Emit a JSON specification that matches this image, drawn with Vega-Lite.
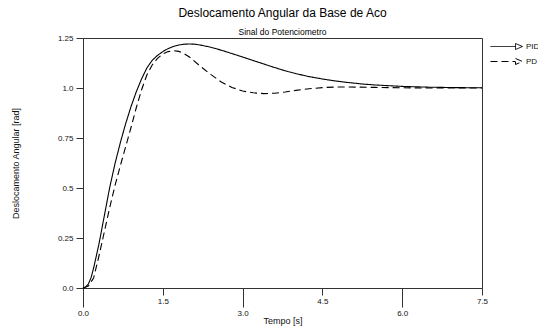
{
  "$schema": "https://vega.github.io/schema/vega-lite/v6.json",
  "width": 399,
  "height": 250,
  "autosize": {"type": "none"},
  "padding": {"left": 83, "top": 38, "right": 56, "bottom": 39},
  "background": "white",
  "title": {
    "text": "Deslocamento Angular da Base de Aco",
    "subtitle": "Sinal do Potenciometro",
    "font": "Liberation Sans",
    "fontSize": 12,
    "fontWeight": "normal",
    "color": "black",
    "subtitleFont": "Liberation Sans",
    "subtitleFontSize": 8.5,
    "subtitleColor": "black",
    "anchor": "middle",
    "offset": -3,
    "subtitlePadding": 8
  },
  "config": {
    "view": {"stroke": "#333", "strokeWidth": 1},
    "axis": {
      "grid": false,
      "domainColor": "#333",
      "tickColor": "#333",
      "labelColor": "#111",
      "labelFont": "Liberation Sans",
      "labelFontSize": 8,
      "titleFont": "Liberation Sans",
      "titleFontSize": 9,
      "titleFontWeight": "normal",
      "titleColor": "#111"
    },
    "legend": {
      "labelFont": "Liberation Sans",
      "labelFontSize": 8,
      "labelColor": "#111"
    }
  },
  "data": {
    "values": [
      {"t": 0, "y": 0, "series": "PID"},
      {"t": 0.05, "y": 0.005, "series": "PID"},
      {"t": 0.1, "y": 0.02, "series": "PID"},
      {"t": 0.15, "y": 0.05, "series": "PID"},
      {"t": 0.2, "y": 0.1, "series": "PID"},
      {"t": 0.3, "y": 0.22, "series": "PID"},
      {"t": 0.4, "y": 0.36, "series": "PID"},
      {"t": 0.5, "y": 0.5, "series": "PID"},
      {"t": 0.6, "y": 0.62, "series": "PID"},
      {"t": 0.7, "y": 0.725, "series": "PID"},
      {"t": 0.8, "y": 0.82, "series": "PID"},
      {"t": 0.9, "y": 0.905, "series": "PID"},
      {"t": 1.0, "y": 0.98, "series": "PID"},
      {"t": 1.1, "y": 1.045, "series": "PID"},
      {"t": 1.2, "y": 1.1, "series": "PID"},
      {"t": 1.3, "y": 1.138, "series": "PID"},
      {"t": 1.4, "y": 1.163, "series": "PID"},
      {"t": 1.5, "y": 1.182, "series": "PID"},
      {"t": 1.6, "y": 1.197, "series": "PID"},
      {"t": 1.7, "y": 1.208, "series": "PID"},
      {"t": 1.8, "y": 1.215, "series": "PID"},
      {"t": 1.9, "y": 1.219, "series": "PID"},
      {"t": 2.0, "y": 1.22, "series": "PID"},
      {"t": 2.1, "y": 1.219, "series": "PID"},
      {"t": 2.2, "y": 1.215, "series": "PID"},
      {"t": 2.4, "y": 1.204, "series": "PID"},
      {"t": 2.6, "y": 1.189, "series": "PID"},
      {"t": 2.8, "y": 1.172, "series": "PID"},
      {"t": 3.0, "y": 1.155, "series": "PID"},
      {"t": 3.25, "y": 1.133, "series": "PID"},
      {"t": 3.5, "y": 1.111, "series": "PID"},
      {"t": 3.75, "y": 1.09, "series": "PID"},
      {"t": 4.0, "y": 1.072, "series": "PID"},
      {"t": 4.25, "y": 1.057, "series": "PID"},
      {"t": 4.5, "y": 1.045, "series": "PID"},
      {"t": 4.75, "y": 1.035, "series": "PID"},
      {"t": 5.0, "y": 1.027, "series": "PID"},
      {"t": 5.25, "y": 1.02, "series": "PID"},
      {"t": 5.5, "y": 1.015, "series": "PID"},
      {"t": 6.0, "y": 1.008, "series": "PID"},
      {"t": 6.5, "y": 1.004, "series": "PID"},
      {"t": 7.0, "y": 1.002, "series": "PID"},
      {"t": 7.5, "y": 1.001, "series": "PID"},
      {"t": 0, "y": 0, "series": "PD"},
      {"t": 0.1, "y": 0.01, "series": "PD"},
      {"t": 0.2, "y": 0.05, "series": "PD"},
      {"t": 0.3, "y": 0.16, "series": "PD"},
      {"t": 0.4, "y": 0.28, "series": "PD"},
      {"t": 0.5, "y": 0.4, "series": "PD"},
      {"t": 0.6, "y": 0.51, "series": "PD"},
      {"t": 0.7, "y": 0.61, "series": "PD"},
      {"t": 0.8, "y": 0.705, "series": "PD"},
      {"t": 0.9, "y": 0.8, "series": "PD"},
      {"t": 1.0, "y": 0.9, "series": "PD"},
      {"t": 1.1, "y": 0.99, "series": "PD"},
      {"t": 1.2, "y": 1.065, "series": "PD"},
      {"t": 1.3, "y": 1.115, "series": "PD"},
      {"t": 1.4, "y": 1.148, "series": "PD"},
      {"t": 1.5, "y": 1.17, "series": "PD"},
      {"t": 1.6, "y": 1.182, "series": "PD"},
      {"t": 1.7, "y": 1.187, "series": "PD"},
      {"t": 1.8, "y": 1.183, "series": "PD"},
      {"t": 1.9, "y": 1.172, "series": "PD"},
      {"t": 2.0, "y": 1.155, "series": "PD"},
      {"t": 2.2, "y": 1.11, "series": "PD"},
      {"t": 2.4, "y": 1.068, "series": "PD"},
      {"t": 2.6, "y": 1.03, "series": "PD"},
      {"t": 2.8, "y": 1.003, "series": "PD"},
      {"t": 3.0, "y": 0.985, "series": "PD"},
      {"t": 3.2, "y": 0.976, "series": "PD"},
      {"t": 3.4, "y": 0.972, "series": "PD"},
      {"t": 3.6, "y": 0.974, "series": "PD"},
      {"t": 3.8, "y": 0.98, "series": "PD"},
      {"t": 4.0, "y": 0.988, "series": "PD"},
      {"t": 4.25, "y": 0.996, "series": "PD"},
      {"t": 4.5, "y": 1.002, "series": "PD"},
      {"t": 4.75, "y": 1.005, "series": "PD"},
      {"t": 5.0, "y": 1.005, "series": "PD"},
      {"t": 5.5, "y": 1.003, "series": "PD"},
      {"t": 6.0, "y": 1.001, "series": "PD"},
      {"t": 6.5, "y": 1.0, "series": "PD"},
      {"t": 7.5, "y": 1.0, "series": "PD"}
    ]
  },
  "mark": {"type": "line", "color": "black", "strokeWidth": 1.1},
  "encoding": {
    "x": {
      "field": "t",
      "type": "quantitative",
      "scale": {"domain": [0, 7.5], "nice": false, "zero": false},
      "axis": {
        "values": [0, 1.5, 3, 4.5, 6, 7.5],
        "format": ".1f",
        "tickSize": {"condition": {"test": "datum.value % 3 == 0", "value": 19}, "value": 7},
        "labelPadding": 2,
        "labelFlush": false,
        "title": "Tempo [s]",
        "titleBaseline": "middle",
        "titleY": 32
      }
    },
    "y": {
      "field": "y",
      "type": "quantitative",
      "scale": {"domain": [0, 1.25], "nice": false},
      "axis": {
        "values": [0, 0.25, 0.5, 0.75, 1.0, 1.25],
        "format": ".2~f",
        "labelExpr": "indexof(datum.label, '.') < 0 ? datum.label + '.0' : datum.label",
        "tickSize": 7,
        "labelPadding": 3,
        "labelFlush": false,
        "title": "Deslocamento Angular [rad]",
        "titleBaseline": "middle",
        "titleX": -68,
        "titleY": 125
      }
    },
    "detail": {"field": "series"},
    "strokeDash": {
      "field": "series",
      "type": "nominal",
      "scale": {"domain": ["PID", "PD"], "range": [[1, 0], [7, 4]]},
      "legend": {
        "title": null,
        "orient": "right",
        "offset": 24,
        "padding": 3,
        "symbolType": "M-5.4,0L-0.4,0M-0.4,-0.6L1,0L-0.4,0.6Z",
        "symbolSize": 100,
        "symbolStrokeColor": "black",
        "symbolStrokeWidth": 1,
        "symbolFillColor": "white",
        "labelOffset": 3,
        "rowPadding": 4
      }
    }
  }
}
